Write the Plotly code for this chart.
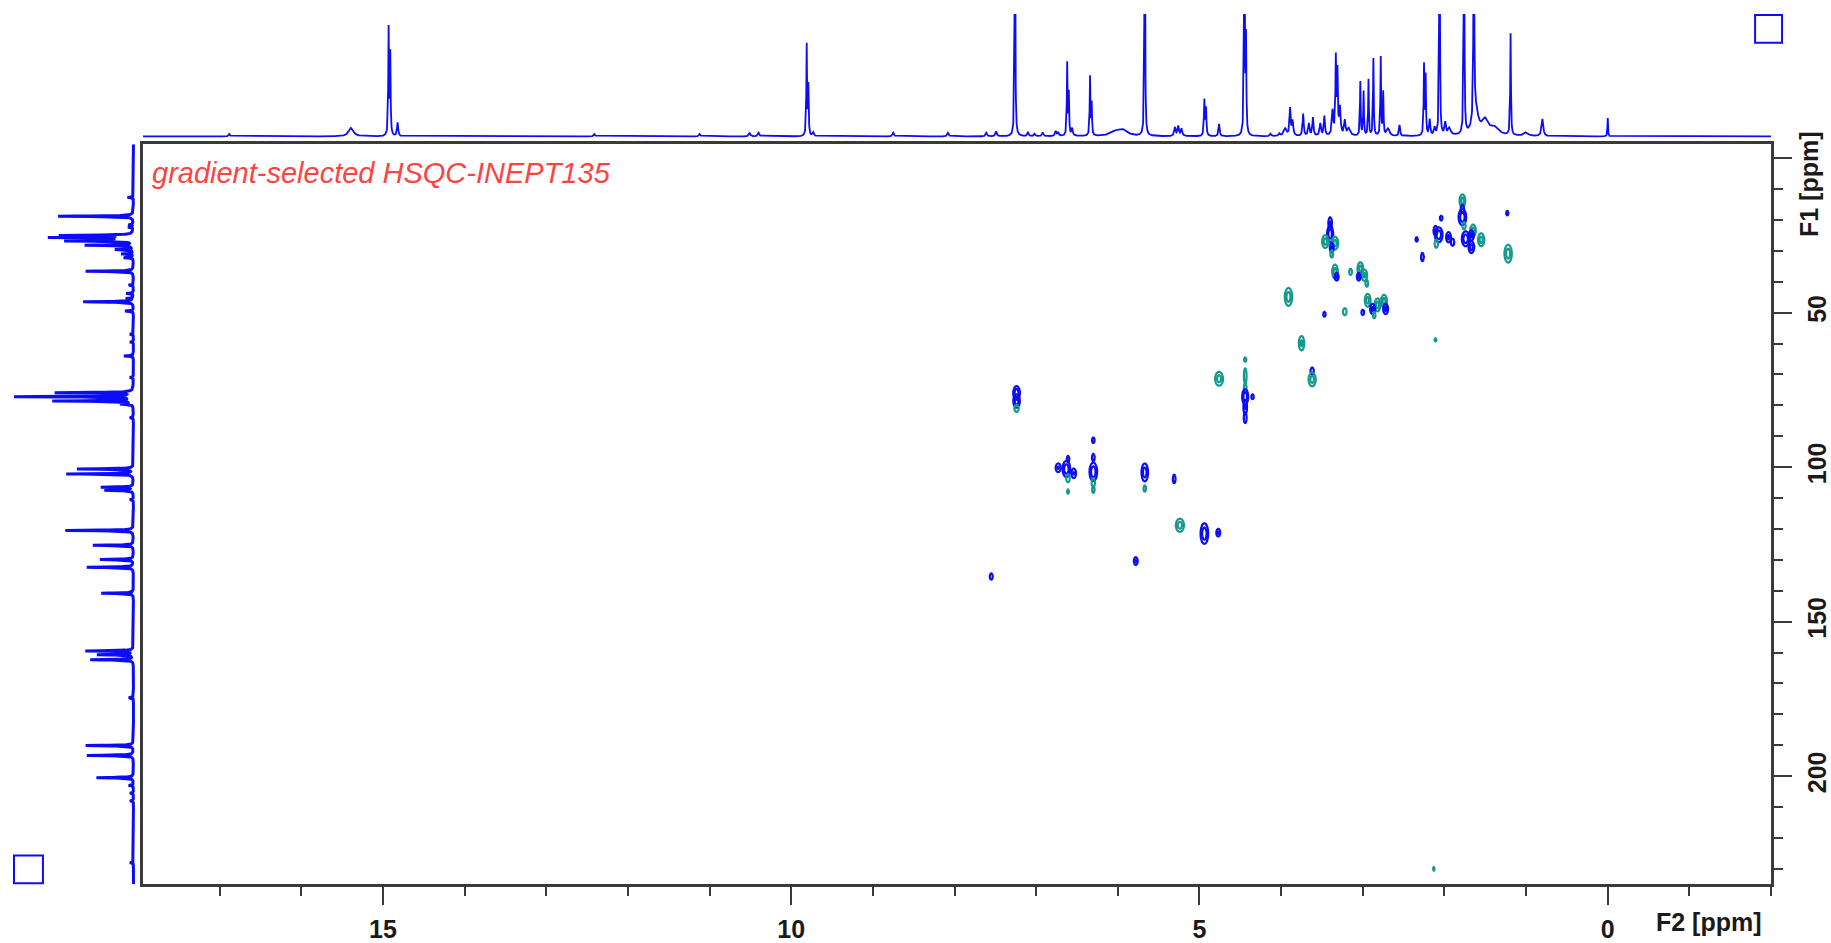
import numpy as np
import plotly.graph_objects as go

# ---------------- 1H projection (top trace) ----------------
# shift (ppm), relative height (1 = top of the strip), half-width (ppm)
h1_shift = [16.88, 15.39, 14.93, 14.91, 14.82, 12.41, 11.12, 10.51, 10.40, 9.81,
            9.79, 9.73, 8.75, 8.08, 7.61, 7.49, 7.26, 7.10, 7.02, 6.92,
            6.76, 6.73, 6.62, 6.60, 6.56, 6.34, 6.32, 6.02, 5.93, 5.67,
            5.30, 5.26, 5.22, 4.94, 4.92, 4.76, 4.45, 4.43, 4.13, 4.02,
            3.95, 3.89, 3.86, 3.73, 3.66, 3.61, 3.52, 3.47, 3.37, 3.33,
            3.31, 3.28, 3.22, 3.17, 3.03, 2.99, 2.93, 2.87, 2.78, 2.75,
            2.69, 2.55, 2.25, 2.23, 2.18, 2.12, 2.06, 1.99, 1.94, 1.76,
            1.64, 1.62, 1.50, 1.38, 1.19, 1.00, 0.80, 0.00]
h1_height = [0.02, 0.07, 0.87, 0.66, 0.11, 0.02, 0.02, 0.03, 0.03, 0.74,
             0.40, 0.03, 0.03, 0.03, 0.03, 0.04, 3.00, 0.03, 0.02, 0.03,
             0.04, 0.03, 0.59, 0.34, 0.06, 0.48, 0.26, 0.04, 0.04, 3.00,
             0.07, 0.08, 0.06, 0.29, 0.22, 0.10, 3.00, 0.76, 0.02, 0.02,
             0.06, 0.22, 0.12, 0.18, 0.10, 0.15, 0.10, 0.16, 0.20, 0.62,
             0.50, 0.22, 0.12, 0.06, 0.44, 0.36, 0.46, 0.63, 0.64, 0.35,
             0.06, 0.09, 0.57, 0.48, 0.13, 0.06, 3.00, 0.10, 0.06, 3.00,
             3.00, 0.20, 0.12, 0.06, 0.83, 0.03, 0.14, 0.15]
h1_width = [0.010, 0.035, 0.005, 0.005, 0.008, 0.010, 0.010, 0.010, 0.010, 0.005,
            0.005, 0.010, 0.010, 0.010, 0.010, 0.010, 0.004, 0.010, 0.010, 0.010,
            0.010, 0.010, 0.005, 0.005, 0.010, 0.005, 0.005, 0.080, 0.060, 0.004,
            0.010, 0.010, 0.010, 0.006, 0.006, 0.008, 0.004, 0.005, 0.010, 0.010,
            0.020, 0.008, 0.010, 0.008, 0.010, 0.008, 0.010, 0.008, 0.010, 0.006,
            0.006, 0.010, 0.010, 0.020, 0.005, 0.005, 0.005, 0.005, 0.005, 0.005,
            0.020, 0.008, 0.005, 0.005, 0.008, 0.010, 0.004, 0.010, 0.020, 0.004,
            0.004, 0.040, 0.050, 0.060, 0.005, 0.030, 0.012, 0.004]

# ---------------- 13C projection (left trace) ----------------
c13_shift = [12.7, 18.8, 21.6, 22.3, 25.0, 25.7, 26.3, 26.8, 28.2, 29.6,
             31.0, 32.2, 36.6, 41.1, 43.8, 45.4, 46.5, 49.5, 57.0, 59.5,
             64.0, 71.0, 75.9, 77.2, 78.6, 79.6, 84.0, 100.6, 102.2, 106.5,
             107.5, 110.5, 120.5, 125.3, 129.9, 132.4, 140.8, 159.5, 160.7, 162.3,
             174.6, 190.1, 193.3, 200.5, 203.0, 205.5, 208.0, 228.0]
c13_height = [0.05, 0.63, 0.04, 0.04, 0.60, 0.68, 0.30, 0.55, 0.40, 0.15,
              0.10, 0.08, 0.40, 0.04, 0.06, 0.06, 0.42, 0.07, 0.03, 0.03,
              0.08, 0.03, 0.65, 1.00, 0.67, 0.10, 0.03, 0.47, 0.56, 0.27,
              0.24, 0.03, 0.57, 0.34, 0.28, 0.39, 0.27, 0.40, 0.30, 0.36,
              0.04, 0.40, 0.39, 0.31, 0.04, 0.03, 0.03, 0.03]

# ---------------- HSQC cross peaks ----------------
# dH (ppm), dC (ppm), phase (+1 CH/CH3, -1 CH2), amplitude, width H, width C
xp_h = [7.24, 7.24, 7.24, 7.55,
        6.73, 6.63, 6.54, 6.61, 6.61, 6.61,
        6.30, 6.30, 6.30, 6.30, 6.30,
        5.67, 5.67, 5.31, 5.78, 5.24, 4.94, 4.77,
        4.44, 4.44, 4.44, 4.44, 4.44, 4.44, 4.35, 4.76,
        3.75, 3.62, 3.62, 3.91, 3.47, 3.22, 3.00,
        2.94, 2.82, 2.74, 2.88, 2.72, 2.86,
        3.40, 3.40, 3.46, 3.34, 3.38, 3.38, 3.34, 3.32,
        3.15, 3.03, 2.98, 3.05, 2.95, 2.34, 2.27,
        2.04, 2.07, 2.11, 2.10, 1.95, 1.90,
        1.78, 1.78, 1.78,
        1.74, 1.67, 1.65, 1.55, 1.67, 1.76,
        1.23, 1.22, 2.11, 2.13]
xp_c = [76.0, 78.6, 81.0, 135.4,
        100.2, 100.6, 102.0, 97.4, 103.6, 107.9,
        101.5, 96.9, 91.3, 105.0, 107.3,
        101.7, 106.9, 103.8, 130.4, 118.8, 121.5, 121.2,
        65.2, 70.5, 74.3, 77.2, 80.6, 84.0, 77.2, 71.4,
        59.9, 68.9, 71.6, 44.9, 50.5, 49.7, 49.9,
        46.0, 47.5, 46.3, 48.8, 48.8, 50.8,
        21.0, 24.5, 27.0, 27.5, 29.0, 31.0, 36.7, 38.4,
        36.8, 35.8, 37.9, 38.4, 40.5, 26.3, 32.0,
        19.4, 24.8, 23.5, 27.7, 25.6, 27.2,
        13.8, 16.4, 19.1,
        26.1, 28.8, 23.4, 26.4, 25.0, 21.9,
        17.8, 30.9, 58.8, 230.0]
xp_phase = [1, 1, -1, 1,
            1, 1, 1, 1, -1, -1,
            1, 1, 1, -1, -1,
            1, -1, 1, 1, -1, 1, 1,
            -1, -1, -1, 1, 1, 1, 1, -1,
            -1, 1, -1, -1, 1, -1, 1,
            -1, -1, -1, 1, 1, -1,
            1, 1, -1, -1, 1, -1, -1, 1,
            -1, -1, -1, 1, -1, 1, 1,
            1, 1, 1, -1, 1, 1,
            -1, 1, 1,
            1, 1, -1, -1, 1, -1,
            1, -1, -1, -1]
xp_amp = [1.0, 0.9, 0.5, 0.4,
          0.6, 1.0, 0.6, 0.4, 0.5, 0.35,
          1.0, 0.45, 0.4, 0.5, 0.4,
          0.9, 0.4, 0.45, 0.6, 0.85, 1.0, 0.6,
          0.35, 0.45, 0.45, 1.0, 0.6, 0.5, 0.4, 0.8,
          0.7, 0.5, 0.8, 0.9, 0.4, 0.5, 0.45,
          0.8, 0.8, 0.8, 0.7, 0.7, 0.4,
          0.6, 1.0, 0.8, 0.8, 0.6, 0.5, 0.8, 0.6,
          0.5, 0.8, 0.7, 0.6, 0.45, 0.35, 0.45,
          0.4, 1.0, 0.6, 0.5, 0.7, 0.5,
          0.8, 0.5, 1.0,
          1.0, 0.8, 0.8, 0.8, 0.7, 0.5,
          0.35, 0.9, 0.3, 0.3]
xp_wh = [0.022, 0.022, 0.018, 0.014,
         0.020, 0.025, 0.018, 0.012, 0.015, 0.010,
         0.025, 0.012, 0.012, 0.014, 0.012,
         0.022, 0.012, 0.012, 0.015, 0.028, 0.025, 0.015,
         0.012, 0.012, 0.012, 0.020, 0.014, 0.012, 0.012, 0.028,
         0.020, 0.014, 0.025, 0.025, 0.012, 0.015, 0.012,
         0.020, 0.020, 0.020, 0.018, 0.018, 0.012,
         0.014, 0.020, 0.022, 0.022, 0.015, 0.012, 0.020, 0.015,
         0.012, 0.020, 0.020, 0.014, 0.012, 0.012, 0.012,
         0.012, 0.025, 0.015, 0.014, 0.018, 0.014,
         0.020, 0.014, 0.025,
         0.025, 0.020, 0.020, 0.022, 0.018, 0.014,
         0.012, 0.025, 0.010, 0.008]
xp_wc = [1.2, 1.2, 0.8, 0.8,
         0.9, 1.4, 1.0, 0.8, 0.9, 0.6,
         1.6, 0.9, 0.7, 1.0, 0.8,
         1.6, 0.8, 1.0, 0.8, 1.2, 1.8, 0.8,
         0.6, 1.8, 1.0, 1.3, 1.5, 1.2, 0.6, 1.3,
         1.4, 0.8, 1.3, 1.6, 0.6, 0.8, 0.6,
         1.2, 1.2, 1.2, 1.0, 1.0, 0.8,
         1.2, 1.4, 1.2, 1.2, 1.0, 0.8, 1.3, 0.8,
         0.7, 1.2, 1.1, 0.8, 0.8, 0.6, 1.0,
         0.6, 1.3, 1.0, 0.9, 1.0, 0.8,
         1.2, 0.9, 1.4,
         1.3, 1.1, 1.1, 1.2, 1.0, 0.8,
         0.6, 1.6, 0.5, 0.6]

BLUE = "#0c0cf5"
TEAL = "#14998d"
AXIS = "#3a3a3a"

X_RANGE = [17.94, -2.0]
Y_RANGE = [235.0, -4.5]
W, H = 1831, 943
X_DOM = [143 / W, 1773 / W]
Y_DOM = [(H - 889) / H, (H - 145) / H]

fig = go.Figure()

# top 1H trace
gh = np.union1d(np.arange(X_RANGE[1], X_RANGE[0], 0.002), h1_shift)
sh = np.zeros_like(gh)
for s, a, w in zip(h1_shift, h1_height, h1_width):
    sh += a * w ** 2 / ((gh - s) ** 2 + w ** 2)
fig.add_trace(go.Scatter(x=gh, y=sh, xaxis="x2", yaxis="y2", mode="lines",
                         line=dict(color=BLUE, width=1.8), hoverinfo="skip"))

# left 13C trace
gc = np.union1d(np.arange(Y_RANGE[1], Y_RANGE[0], 0.04), c13_shift)
sc = np.zeros_like(gc)
for s, a in zip(c13_shift, c13_height):
    sc += a * 0.12 ** 2 / ((gc - s) ** 2 + 0.12 ** 2)
fig.add_trace(go.Scatter(x=sc, y=gc, xaxis="x3", yaxis="y3", mode="lines",
                         line=dict(color=BLUE, width=3), hoverinfo="skip"))

# HSQC contours, one small grid per cross peak
for h0, c0, ph, amp, wh, wc in zip(xp_h, xp_c, xp_phase, xp_amp, xp_wh, xp_wc):
    xs = np.linspace(h0 - 3.2 * wh, h0 + 3.2 * wh, 25)
    ys = np.linspace(c0 - 3.2 * wc, c0 + 3.2 * wc, 25)
    X, Y = np.meshgrid(xs, ys)
    Z = amp * np.exp(-0.5 * (((X - h0) / wh) ** 2 + ((Y - c0) / wc) ** 2))
    col = BLUE if ph > 0 else TEAL
    fig.add_trace(go.Contour(
        x=xs, y=ys, z=Z, xaxis="x", yaxis="y",
        contours=dict(start=0.18, end=0.6, size=0.37, coloring="none"),
        line=dict(color=col, width=2.2, smoothing=1.0),
        showscale=False, hoverinfo="skip"))

tick_font = dict(family="Liberation Sans", size=25, color="#1a1a1a", weight="bold")

fig.update_layout(
    width=W, height=H, autosize=False,
    margin=dict(l=0, r=0, t=0, b=0),
    paper_bgcolor="white", plot_bgcolor="white", showlegend=False,
    xaxis=dict(domain=X_DOM, range=X_RANGE, anchor="y", showgrid=False, zeroline=False,
               showline=True, mirror=True, linecolor=AXIS, linewidth=2.5,
               ticks="outside", ticklen=18, tickwidth=2, tickcolor=AXIS,
               tick0=0, dtick=5, tickfont=tick_font, ticklabelstandoff=3,
               minor=dict(ticks="outside", ticklen=9, tickwidth=1.5, tickcolor=AXIS,
                          tick0=0, dtick=1, showgrid=False)),
    yaxis=dict(domain=Y_DOM, range=Y_RANGE, anchor="x", side="right", showgrid=False,
               zeroline=False, showline=True, mirror=True, linecolor=AXIS, linewidth=2.5,
               ticks="outside", ticklen=18, tickwidth=2, tickcolor=AXIS,
               tickmode="array", tickvals=[0, 50, 100, 150, 200],
               ticktext=["", "50", "100", "150", "200"],
               tickangle=-90, tickfont=tick_font, ticklabelstandoff=4,
               minor=dict(ticks="outside", ticklen=9, tickwidth=1.5, tickcolor=AXIS,
                          tick0=0, dtick=10, showgrid=False)),
    xaxis2=dict(domain=X_DOM, range=X_RANGE, anchor="y2", visible=False),
    yaxis2=dict(domain=[(H - 139) / H, (H - 14) / H], range=[-0.015, 1.0],
                anchor="x2", visible=False),
    xaxis3=dict(domain=[14 / W, 136 / W], range=[1.0, -0.02], anchor="y3", visible=False),
    yaxis3=dict(domain=Y_DOM, range=Y_RANGE, anchor="x3", visible=False),
)

fig.add_annotation(text="gradient-selected HSQC-INEPT135", xref="paper", yref="paper",
                   x=150 / W, y=(H - 174) / H, xanchor="left", yanchor="middle",
                   showarrow=False,
                   font=dict(family="Liberation Sans", size=29, color="#ff4242",
                             style="italic"))
fig.add_annotation(text="F2 [ppm]", xref="paper", yref="paper",
                   x=1711 / W, y=(H - 927) / H, xanchor="center", yanchor="middle",
                   showarrow=False, font=tick_font)
fig.add_annotation(text="F1 [ppm]", xref="paper", yref="paper", textangle=-90,
                   x=1811 / W, y=(H - 185) / H, xanchor="center", yanchor="middle",
                   showarrow=False, font=tick_font)

# small view-marker boxes at the corners
for x0, y0, x1, y1 in [(1757, 15, 1784, 43), (14, 860, 43, 888)]:
    fig.add_shape(type="rect", xref="paper", yref="paper",
                  x0=x0 / W, x1=x1 / W, y0=(H - y1) / H, y1=(H - y0) / H,
                  line=dict(color=BLUE, width=2), fillcolor="rgba(0,0,0,0)")

fig.write_html("out.html")
